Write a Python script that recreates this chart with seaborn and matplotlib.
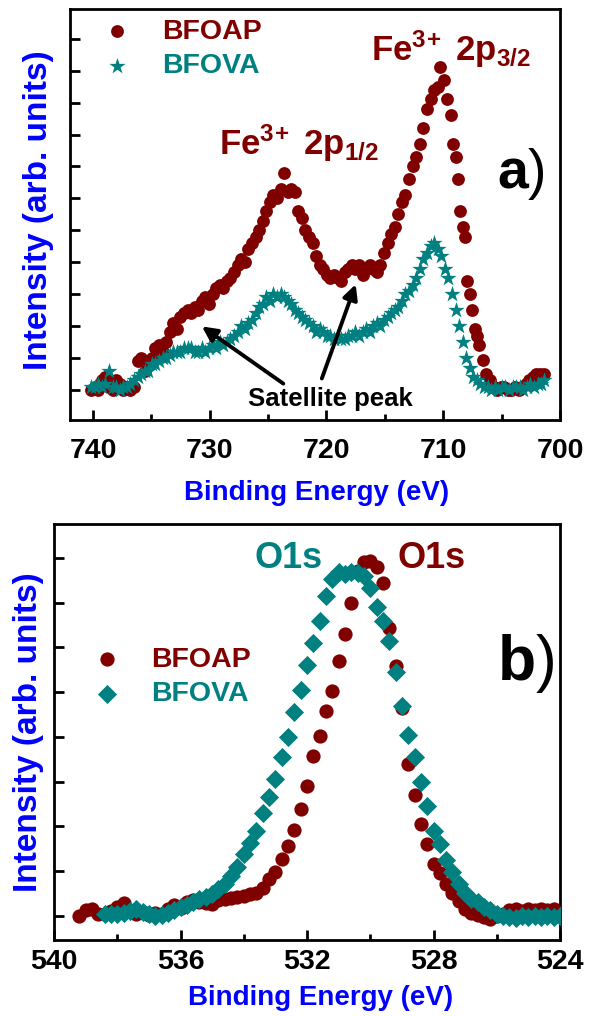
import matplotlib
matplotlib.use("Agg")
import matplotlib.pyplot as plt
import numpy as np
import pandas as pd
import seaborn as sns
from matplotlib.ticker import FixedLocator, MultipleLocator

# ---------------- data: panel a) Fe 2p ----------------
fe_ap_be = [740.16, 739.85, 739.55, 739.24, 738.94, 738.63, 738.32, 738.02, 737.71, 737.41,
            737.10, 736.79, 736.49, 736.18, 735.88, 735.57, 735.26, 734.96, 734.65, 734.35,
            734.04, 733.73, 733.43, 733.12, 732.82, 732.51, 732.20, 731.90, 731.59, 731.29,
            730.98, 730.67, 730.37, 730.06, 729.76, 729.45, 729.14, 728.84, 728.53, 728.23,
            727.92, 727.61, 727.31, 727.00, 726.70, 726.39, 726.08, 725.78, 725.47, 725.17,
            724.86, 724.55, 724.25, 723.94, 723.64, 723.33, 723.02, 722.72, 722.41, 722.11,
            721.80, 721.49, 721.19, 720.88, 720.58, 720.27, 719.96, 719.66, 719.35, 719.05,
            718.74, 718.43, 718.13, 717.82, 717.52, 717.21, 716.90, 716.60, 716.29, 715.99,
            715.68, 715.38, 715.07, 714.77, 714.46, 714.15, 713.85, 713.54, 713.24, 712.93,
            712.62, 712.32, 712.01, 711.71, 711.40, 711.09, 710.79, 710.48, 710.28, 709.97,
            709.67, 709.36, 709.16, 708.95, 708.75, 708.54, 708.34, 708.14, 707.93, 707.73,
            707.52, 707.32, 707.12, 706.91, 706.61, 706.30, 705.99, 705.69, 705.38, 705.08,
            704.77, 704.46, 704.16, 703.85, 703.55, 703.24, 702.93, 702.63, 702.32, 702.02,
            701.71, 701.40]
fe_ap_int = [0.0, 0.1, 0.0, 0.3, 0.4, 0.1, 0.0, 0.3, 0.2, 0.0,
             0.1, 0.0, 0.1, 0.9, 1.0, 0.6, 0.9, 1.0, 1.3, 1.4,
             1.2, 1.5, 1.8, 2.1, 1.9, 2.3, 2.4, 2.5, 2.4, 2.6,
             2.5, 2.8, 2.9, 2.7, 3.0, 3.2, 3.3, 3.2, 3.4, 3.5,
             3.7, 3.9, 4.1, 4.0, 4.4, 4.6, 4.8, 5.0, 5.3, 5.6,
             5.9, 6.1, 6.0, 6.3, 6.8, 6.2, 6.3, 6.2, 5.6, 5.4,
             5.0, 4.8, 4.6, 4.2, 3.9, 3.8, 3.6, 3.5, 3.6, 3.5,
             3.4, 3.7, 3.8, 3.9, 3.8, 3.9, 3.6, 3.8, 3.9, 3.8,
             3.7, 3.9, 4.3, 4.6, 4.9, 5.1, 5.5, 5.9, 6.1, 6.6,
             7.0, 7.3, 7.7, 8.2, 8.8, 9.1, 9.4, 9.5, 10.1, 9.7,
             9.1, 8.6, 7.7, 7.3, 6.6, 5.6, 5.1, 4.8, 3.4, 3.0,
             2.5, 1.9, 1.7, 1.4, 0.95, 0.5, 0.3, 0.1, 0.0, 0.1,
             0.1, 0.0, 0.0, 0.1, 0.0, 0.1, 0.2, 0.3, 0.4, 0.5,
             0.5, 0.5]

fe_va_be = [740.16, 739.85, 739.55, 739.24, 738.94, 738.63, 738.32, 738.02, 737.71, 737.41,
            737.10, 736.79, 736.49, 736.18, 735.88, 735.57, 735.26, 734.96, 734.65, 734.35,
            734.04, 733.73, 733.43, 733.12, 732.82, 732.51, 732.20, 731.90, 731.59, 731.29,
            730.98, 730.67, 730.37, 730.06, 729.76, 729.45, 729.14, 728.84, 728.53, 728.23,
            727.92, 727.61, 727.31, 727.00, 726.70, 726.39, 726.08, 725.78, 725.47, 725.17,
            724.86, 724.55, 724.25, 723.94, 723.64, 723.33, 723.02, 722.72, 722.41, 722.11,
            721.80, 721.49, 721.19, 720.88, 720.58, 720.27, 719.96, 719.66, 719.35, 719.05,
            718.74, 718.43, 718.13, 717.82, 717.52, 717.21, 716.90, 716.60, 716.29, 715.99,
            715.68, 715.38, 715.07, 714.77, 714.46, 714.15, 713.85, 713.54, 713.24, 712.93,
            712.62, 712.32, 712.01, 711.71, 711.40, 711.09, 710.79, 710.48, 710.17, 709.87,
            709.56, 709.25, 708.95, 708.64, 708.34, 708.03, 707.73, 707.42, 707.12, 706.81,
            706.50, 706.20, 705.89, 705.59, 705.28, 704.97, 704.67, 704.36, 704.06, 703.75,
            703.44, 703.14, 702.83, 702.53, 702.22, 701.91, 701.61, 701.40]
fe_va_int = [0.1, 0.1, 0.2, 0.1, 0.2, 0.6, 0.1, 0.1, 0.0, 0.1,
             0.1, 0.2, 0.3, 0.4, 0.5, 0.6, 0.6, 0.8, 0.8, 0.9,
             1.0, 1.0, 1.1, 1.2, 1.2, 1.2, 1.3, 1.3, 1.3, 1.2,
             1.2, 1.3, 1.2, 1.3, 1.4, 1.3, 1.5, 1.4, 1.5, 1.6,
             1.7, 1.8, 2.0, 1.9, 2.1, 2.2, 2.4, 2.6, 2.7, 2.9,
             2.8, 3.0, 2.9, 3.0, 2.9, 2.8, 2.7, 2.5, 2.4, 2.3,
             2.2, 2.1, 2.0, 1.8, 1.9, 1.8, 1.7, 1.7, 1.6, 1.7,
             1.6, 1.6, 1.7, 1.7, 1.8, 1.7, 1.8, 1.9, 1.8, 2.0,
             2.1, 2.0, 2.2, 2.3, 2.4, 2.5, 2.6, 2.8, 3.0, 3.1,
             3.3, 3.5, 3.8, 4.1, 4.3, 4.5, 4.6, 4.4, 4.2, 3.8,
             3.5, 3.0, 2.5, 2.0, 1.5, 1.0, 0.7, 0.4, 0.3, 0.2,
             0.1, 0.1, 0.0, 0.1, 0.0, 0.1, 0.1, 0.0, 0.1, 0.1,
             0.1, 0.0, 0.1, 0.2, 0.1, 0.2, 0.2, 0.3]

# ---------------- data: panel b) O 1s ----------------
o_ap_be = [539.2, 539.0, 538.8, 538.6, 538.4, 538.2, 538.0, 537.8, 537.6, 537.4,
           537.2, 537.0, 536.8, 536.6, 536.4, 536.2, 536.0, 535.8, 535.6, 535.4,
           535.2, 535.0, 534.8, 534.6, 534.4, 534.2, 534.0, 533.8, 533.6, 533.4,
           533.2, 533.0, 532.8, 532.6, 532.4, 532.2, 532.0, 531.8, 531.6, 531.4,
           531.2, 531.0, 530.8, 530.6, 530.4, 530.2, 530.0, 529.8, 529.6, 529.4,
           529.2, 529.0, 528.8, 528.6, 528.4, 528.2, 528.0, 527.8, 527.6, 527.4,
           527.2, 527.0, 526.8, 526.6, 526.4, 526.2, 526.0, 525.8, 525.6, 525.4,
           525.2, 525.0, 524.8, 524.6, 524.4, 524.2]
o_ap_int = [0.00, 0.12, 0.15, 0.05, 0.04, 0.10, 0.20, 0.28, 0.10, 0.05,
            0.08, 0.03, 0.06, 0.05, 0.15, 0.25, 0.18, 0.30, 0.36, 0.30,
            0.28, 0.26, 0.35, 0.38, 0.40, 0.42, 0.45, 0.48, 0.52, 0.63,
            0.82, 0.97, 1.26, 1.56, 1.93, 2.38, 2.90, 3.57, 4.02, 4.58,
            5.02, 5.69, 6.29, 6.99, 7.70, 7.92, 7.93, 7.80, 7.44, 6.44,
            5.58, 4.65, 3.40, 2.70, 2.05, 1.60, 1.15, 0.95, 0.72, 0.52,
            0.33, 0.15, 0.06, 0.02, -0.03, -0.06, 0.00, 0.05, 0.12, 0.15,
            0.10, 0.15, 0.12, 0.16, 0.12, 0.15]

o_va_be = [538.4, 538.2, 538.0, 537.8, 537.6, 537.4, 537.2, 537.0, 536.8, 536.6,
           536.4, 536.2, 536.0, 535.8, 535.6, 535.4, 535.2, 535.0, 534.8, 534.6,
           534.4, 534.2, 534.0, 533.8, 533.6, 533.4, 533.2, 533.0, 532.8, 532.6,
           532.4, 532.2, 532.0, 531.8, 531.6, 531.4, 531.2, 531.0, 530.8, 530.6,
           530.4, 530.2, 530.0, 529.8, 529.6, 529.4, 529.2, 529.0, 528.8, 528.6,
           528.4, 528.2, 528.0, 527.8, 527.6, 527.4, 527.2, 527.0, 526.8, 526.6,
           526.4, 526.2, 526.0, 525.8, 525.6, 525.4, 525.2, 525.0, 524.8, 524.6,
           524.4, 524.2, 524.0]
o_va_int = [0.04, 0.04, 0.05, 0.07, 0.10, 0.15, 0.08, 0.04, 0.00, 0.03,
            0.07, 0.12, 0.19, 0.25, 0.30, 0.37, 0.42, 0.48, 0.59, 0.72,
            0.90, 1.10, 1.38, 1.62, 1.90, 2.30, 2.65, 3.05, 3.55, 4.00,
            4.55, 5.06, 5.60, 6.10, 6.60, 7.15, 7.54, 7.69, 7.65, 7.69,
            7.66, 7.60, 7.32, 6.90, 6.60, 6.15, 5.45, 4.70, 4.05, 3.55,
            3.00, 2.45, 1.90, 1.60, 1.25, 0.98, 0.72, 0.50, 0.38, 0.30,
            0.20, 0.12, 0.05, 0.00, -0.03, -0.04, 0.00, -0.02, 0.00, -0.03,
            0.00, -0.02, 0.00]

series_names = ["BFOAP", "BFOVA"]
top_xticks = [740, 730, 720, 710, 700]
bot_xticks = [540, 536, 532, 528, 524]

# ---------------- style ----------------
sns.set_theme(style="white")
plt.rcParams["font.family"] = ["Liberation Sans", "DejaVu Sans"]
plt.rcParams["font.weight"] = "bold"
plt.rcParams["mathtext.fontset"] = "custom"
plt.rcParams["mathtext.bf"] = "Liberation Sans:weight=bold"
plt.rcParams["mathtext.rm"] = "Liberation Sans:weight=bold"
plt.rcParams["mathtext.it"] = "Liberation Sans:weight=bold"
plt.rcParams["mathtext.sf"] = "Liberation Sans:weight=normal"
plt.rcParams["mathtext.default"] = "bf"

RED = "#800000"
TEAL = "#008080"
BLUE = "#0000ff"

fig = plt.figure(figsize=(5.9, 10.16), dpi=100)
fig.patch.set_facecolor("white")
ax1 = fig.add_axes([70 / 590, 1 - 420 / 1016, 490 / 590, 411 / 1016])
ax2 = fig.add_axes([54 / 590, 1 - 940 / 1016, 506 / 590, 416 / 1016])

df_fe_ap = pd.DataFrame({"be": fe_ap_be, "inten": fe_ap_int})
df_fe_va = pd.DataFrame({"be": fe_va_be, "inten": fe_va_int})
df_o_ap = pd.DataFrame({"be": o_ap_be, "inten": o_ap_int})
df_o_va = pd.DataFrame({"be": o_va_be, "inten": o_va_int})

sns.scatterplot(data=df_fe_ap, x="be", y="inten", ax=ax1, color=RED, marker="o",
                s=85, linewidth=0, label=series_names[0], legend=False, zorder=3)
sns.scatterplot(data=df_fe_va, x="be", y="inten", ax=ax1, color=TEAL, marker="*",
                s=150, linewidth=0, label=series_names[1], legend=False, zorder=4)
sns.scatterplot(data=df_o_ap, x="be", y="inten", ax=ax2, color=RED, marker="o",
                s=105, linewidth=0, label=series_names[0], legend=False, zorder=3)
sns.scatterplot(data=df_o_va, x="be", y="inten", ax=ax2, color=TEAL, marker="D",
                s=95, linewidth=0, label=series_names[1], legend=False, zorder=4)

for ax in (ax1, ax2):
    ax.set_facecolor("white")
    ax.grid(False)
    for sp in ax.spines.values():
        sp.set_visible(True)
        sp.set_color("black")
        sp.set_linewidth(2.0)
    ax.tick_params(which="both", direction="in", color="black", width=2,
                   bottom=True, left=True, top=False, right=False)
    ax.tick_params(which="major", length=7)
    ax.tick_params(which="minor", length=4.5)
    ax.tick_params(axis="y", labelleft=False)
    ax.tick_params(axis="x", labelsize=20.5, labelcolor="black")

# top axis
ax1.set_xlim(741.97, 700)
ax1.set_ylim(-0.94, 11.93)
ax1.xaxis.set_major_locator(FixedLocator(top_xticks))
ax1.xaxis.set_minor_locator(MultipleLocator(5))
ax1.yaxis.set_major_locator(FixedLocator(list(range(0, 12))))
ax1.tick_params(axis="x", which="major", pad=13)
ax1.set_xticklabels([str(t) for t in top_xticks], fontweight="bold")

# bottom axis
ax2.set_xlim(540, 524)
ax2.set_ylim(-0.54, 8.76)
ax2.xaxis.set_major_locator(FixedLocator(bot_xticks))
ax2.xaxis.set_minor_locator(MultipleLocator(2))
ax2.yaxis.set_major_locator(FixedLocator(list(range(0, 9))))
ax2.tick_params(axis="x", which="major", pad=6.5)
ax2.set_xticklabels([str(t) for t in bot_xticks], fontweight="bold")

# axis labels
ax1.set_xlabel("Binding Energy (eV)", color=BLUE, fontsize=20, fontweight="bold")
ax1.xaxis.set_label_coords(0.504, -0.146)
ax2.set_xlabel("Binding Energy (eV)", color=BLUE, fontsize=20, fontweight="bold")
ax2.xaxis.set_label_coords(0.526, -0.109)
ax1.set_ylabel("Intensity (arb. units)", color=BLUE, fontsize=24, fontweight="bold", va="center")
ax1.yaxis.set_label_coords(-0.065, 0.51)
ax2.set_ylabel("Intensity (arb. units)", color=BLUE, fontsize=24, fontweight="bold", va="center")
ax2.yaxis.set_label_coords(-0.051, 0.5)

# legends
ax1.legend(loc="upper left", bbox_to_anchor=(0.0667, 0.976), frameon=False,
           prop={"weight": "bold", "size": 20.5}, labelcolor=[RED, TEAL],
           handlelength=1.0, handletextpad=1.1, labelspacing=0.3,
           borderpad=0, borderaxespad=0)
ax2.legend(loc="upper left", bbox_to_anchor=(0.077, 0.7055), frameon=False,
           prop={"weight": "bold", "size": 20.5}, labelcolor=[RED, TEAL],
           handlelength=1.0, handletextpad=1.05, labelspacing=0.3,
           borderpad=0, borderaxespad=0)

# annotations panel a
ax1.text(716.2, 10.3, r"Fe$^{3\!+}$ 2p$_{3/2}$", color=RED, fontsize=25,
         fontweight="bold", ha="left", va="baseline", zorder=6)
ax1.text(729.2, 7.36, r"Fe$^{3\!+}$ 2p$_{1/2}$", color=RED, fontsize=25,
         fontweight="bold", ha="left", va="baseline", zorder=6)
ax1.text(705.4, 6.31, r"a$\mathsf{)}$", color="black", fontsize=40, fontweight="bold",
         ha="left", va="baseline", zorder=6)
ax1.text(719.7, -0.27, "Satellite peak", color="black", fontsize=18.5,
         fontweight="bold", ha="center", va="center", zorder=6)
arrow_kw = dict(arrowstyle="-|>", color="black", lw=2.8, mutation_scale=22,
                shrinkA=0, shrinkB=0)
ax1.annotate("", xy=(730.67, 1.99), xytext=(723.7, 0.2), arrowprops=arrow_kw, zorder=6)
ax1.annotate("", xy=(717.5, 3.31), xytext=(720.4, 0.36), arrowprops=arrow_kw, zorder=6)

# annotations panel b
ax2.text(533.67, 7.77, "O1s", color=TEAL, fontsize=26, fontweight="bold",
         ha="left", va="baseline", zorder=6)
ax2.text(529.13, 7.77, "O1s", color=RED, fontsize=26, fontweight="bold",
         ha="left", va="baseline", zorder=6)
ax2.text(526.0, 5.27, r"b$\mathsf{)}$", color="black", fontsize=45, fontweight="bold",
         ha="left", va="baseline", zorder=6)

fig.savefig("out.png", dpi=100, facecolor="white")
